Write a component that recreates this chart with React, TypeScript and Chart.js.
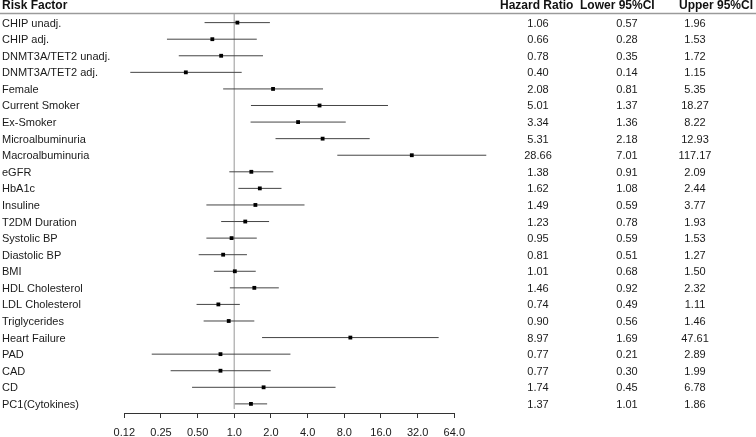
import React, { useEffect, useRef } from "react";
import { Chart, registerables } from "chart.js";

Chart.register(...registerables);

const factors = [
  "CHIP unadj.", "CHIP adj.", "DNMT3A/TET2 unadj.", "DNMT3A/TET2 adj.", "Female",
  "Current Smoker", "Ex-Smoker", "Microalbuminuria", "Macroalbuminuria", "eGFR",
  "HbA1c", "Insuline", "T2DM Duration", "Systolic BP", "Diastolic BP", "BMI",
  "HDL Cholesterol", "LDL Cholesterol", "Triglycerides", "Heart Failure", "PAD",
  "CAD", "CD", "PC1(Cytokines)",
];
const hazardRatio = [1.06, 0.66, 0.78, 0.40, 2.08, 5.01, 3.34, 5.31, 28.66, 1.38, 1.62, 1.49, 1.23, 0.95, 0.81, 1.01, 1.46, 0.74, 0.90, 8.97, 0.77, 0.77, 1.74, 1.37];
const lower95 = [0.57, 0.28, 0.35, 0.14, 0.81, 1.37, 1.36, 2.18, 7.01, 0.91, 1.08, 0.59, 0.78, 0.59, 0.51, 0.68, 0.92, 0.49, 0.56, 1.69, 0.21, 0.30, 0.45, 1.01];
const upper95 = [1.96, 1.53, 1.72, 1.15, 5.35, 18.27, 8.22, 12.93, 117.17, 2.09, 2.44, 3.77, 1.93, 1.53, 1.27, 1.50, 2.32, 1.11, 1.46, 47.61, 2.89, 1.99, 6.78, 1.86];
const tickValues = [0.125, 0.25, 0.5, 1, 2, 4, 8, 16, 32, 64];
const tickLabels = ["0.12", "0.25", "0.50", "1.0", "2.0", "4.0", "8.0", "16.0", "32.0", "64.0"];
const headers = ["Risk Factor", "Hazard Ratio", "Lower 95%CI", "Upper 95%CI"];

const FONT = '"Liberation Sans", Arial, Helvetica, sans-serif';

const tablePlugin = {
  id: "forestTable",
  afterDraw(chart: any) {
    const ctx = chart.ctx;
    const y = chart.scales.y;
    ctx.save();
    // header line
    ctx.strokeStyle = "#9a9a9a";
    ctx.lineWidth = 1.5;
    ctx.beginPath();
    ctx.moveTo(0, 13.5);
    ctx.lineTo(756, 13.5);
    ctx.stroke();
    // headers
    ctx.fillStyle = "#111";
    ctx.font = "bold 12px " + FONT;
    ctx.textBaseline = "alphabetic";
    ctx.textAlign = "left";
    const hx = [2, 500, 580, 679];
    headers.forEach((h, i) => ctx.fillText(h, hx[i], 9));
    // rows
    ctx.font = "11px " + FONT;
    ctx.fillStyle = "#1a1a1a";
    factors.forEach((f, i) => {
      const py = y.getPixelForValue(i) + 4;
      ctx.textAlign = "left";
      ctx.fillText(f, 2, py);
      ctx.textAlign = "center";
      ctx.fillText(hazardRatio[i].toFixed(2), 538, py);
      ctx.fillText(lower95[i].toFixed(2), 627, py);
      ctx.fillText(upper95[i].toFixed(2), 695, py);
    });
    ctx.restore();
  },
};

export default function App() {
  const ref = useRef<HTMLCanvasElement>(null);
  useEffect(() => {
    if (!ref.current) return;
    const ciSets = factors.map((_, i) => ({
      data: [
        { x: lower95[i], y: i },
        { x: upper95[i], y: i },
      ],
      showLine: true,
      borderColor: "#454545",
      borderWidth: 1,
      pointRadius: 0,
      clip: false as any,
    }));
    const chart = new Chart(ref.current, {
      type: "scatter",
      data: {
        datasets: [
          {
            data: hazardRatio.map((v, i) => ({ x: v, y: i })),
            pointStyle: "rect",
            pointRadius: 2.7,
            backgroundColor: "#000",
            borderColor: "#000",
            borderWidth: 0,
            clip: false as any,
          },
          ...ciSets,
          {
            data: [
              { x: 1, y: -0.58 },
              { x: 1, y: 23.3 },
            ],
            showLine: true,
            borderColor: "#b8b8b8",
            borderWidth: 1,
            pointRadius: 0,
            clip: false as any,
          },
        ] as any,
      },
      options: {
        animation: false,
        responsive: false,
        devicePixelRatio: 1,
        layout: { padding: { left: 124.3, right: 301.7, top: 13, bottom: 0 } },
        plugins: { legend: { display: false }, tooltip: { enabled: false } },
        scales: {
          x: {
            type: "logarithmic",
            min: 0.125,
            max: 64,
            afterBuildTicks: (scale: any) => {
              scale.ticks = tickValues.map((v) => ({ value: v }));
            },
            afterFit: (scale: any) => {
              scale.height = 24;
            },
            grid: {
              display: true,
              drawOnChartArea: false,
              drawTicks: true,
              tickLength: 5,
              color: "#333",
            },
            border: { display: true, color: "#333", width: 1 },
            ticks: {
              autoSkip: false,
              maxRotation: 0,
              padding: 8,
              color: "#1a1a1a",
              font: { family: FONT, size: 11 },
              callback: (_v: any, i: number) => tickLabels[i],
            },
          },
          y: {
            type: "linear",
            display: false,
            reverse: true,
            min: -0.58,
            max: 23.55,
          },
        },
      },
      plugins: [tablePlugin],
    });
    return () => chart.destroy();
  }, []);
  return (
    <div style={{ position: "absolute", left: 0, top: 0, width: 756, height: 437, background: "#fff" }}>
      <canvas ref={ref} width={756} height={437} />
    </div>
  );
}
